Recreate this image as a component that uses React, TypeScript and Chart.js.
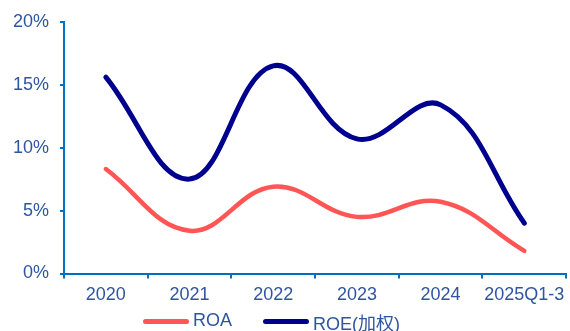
import React, { useEffect, useRef } from "react";
import { Chart, registerables } from "chart.js";

Chart.register(...registerables);

// Yearly profitability ratios (%)
const categories = ["2020", "2021", "2022", "2023", "2024", "2025Q1-3"];
const roaValues = [8.3, 3.4, 6.9, 4.5, 5.7, 1.8];
const roeValues = [15.6, 7.5, 16.5, 10.7, 13.4, 4.0];
const yTicks = [0, 5, 10, 15, 20];

const FONT = "'Liberation Sans', Arial, 'Noto Sans CJK SC', sans-serif";
const TEXT_COLOR = "#2F55A0";
const AXIS_COLOR = "#0070C0";
const ROA_COLOR = "#FF5555";
const ROE_COLOR = "#00008F";
const FONT_SIZE = 18;

export default function App() {
  const canvasRef = useRef<HTMLCanvasElement | null>(null);

  useEffect(() => {
    const canvas = canvasRef.current;
    if (!canvas) return;
    const chart = new Chart(canvas, {
      type: "line",
      data: {
        labels: categories,
        datasets: [
          {
            label: "ROA",
            data: roaValues,
            borderColor: ROA_COLOR,
            backgroundColor: ROA_COLOR,
            borderWidth: 4.5,
            borderCapStyle: "round",
            pointRadius: 0,
            tension: 0.4,
          },
          {
            label: "ROE(加权)",
            data: roeValues,
            borderColor: ROE_COLOR,
            backgroundColor: ROE_COLOR,
            borderWidth: 5,
            borderCapStyle: "round",
            pointRadius: 0,
            tension: 0.4,
          },
        ],
      },
      options: {
        responsive: false,
        animation: false,
        layout: { padding: { left: 0, right: 2, top: 21, bottom: 25.5 } },
        plugins: {
          legend: { display: false },
          tooltip: { enabled: false },
        },
        scales: {
          x: {
            type: "category",
            offset: true,
            grid: {
              offset: true,
              drawOnChartArea: false,
              drawTicks: true,
              tickLength: 5,
              color: AXIS_COLOR,
              lineWidth: 2,
            },
            border: { display: true, color: AXIS_COLOR, width: 2 },
            ticks: {
              color: TEXT_COLOR,
              font: { family: FONT, size: FONT_SIZE },
              padding: 5.5,
              maxRotation: 0,
              autoSkip: false,
            },
            afterFit: (s: any) => {
              s.height = 32;
            },
          },
          y: {
            min: 0,
            max: 20,
            afterBuildTicks: (s: any) => {
              s.ticks = yTicks.map((v) => ({ value: v }));
            },
            grid: {
              drawOnChartArea: false,
              drawTicks: true,
              tickLength: 4,
              color: AXIS_COLOR,
              lineWidth: 2,
            },
            border: { display: true, color: AXIS_COLOR, width: 2 },
            ticks: {
              color: TEXT_COLOR,
              font: { family: FONT, size: FONT_SIZE },
              padding: 11,
              callback: (v: any) => `${v}%`,
            },
            afterFit: (s: any) => {
              s.width = 64;
            },
          },
        },
      },
    });
    return () => chart.destroy();
  }, []);

  const legendText: React.CSSProperties = {
    fontFamily: FONT,
    fontSize: FONT_SIZE,
    lineHeight: `${FONT_SIZE}px`,
    color: TEXT_COLOR,
    whiteSpace: "nowrap",
    position: "absolute",
  };
  const legendLine = (color: string, left: number): React.CSSProperties => ({
    position: "absolute",
    left,
    top: 319,
    width: 46,
    height: 5,
    borderRadius: 3,
    background: color,
  });

  return (
    <div
      style={{
        position: "absolute",
        left: 0,
        top: 0,
        width: 570,
        height: 331,
        overflow: "hidden",
        background: "#fff",
      }}
    >
      <canvas ref={canvasRef} width={570} height={331} style={{ display: "block" }} />
      <div style={legendLine(ROA_COLOR, 143)} />
      <div style={{ ...legendText, left: 193, top: 310.5 }}>ROA</div>
      <div style={legendLine(ROE_COLOR, 263)} />
      <div style={{ ...legendText, left: 313, top: 314.5 }}>ROE(加权)</div>
    </div>
  );
}
